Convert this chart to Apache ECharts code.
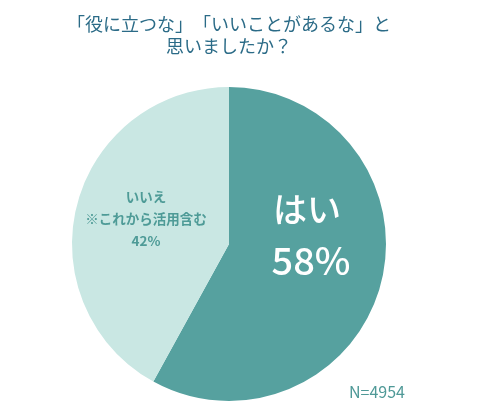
<!DOCTYPE html>
<html><head><meta charset="utf-8">
<script src="https://cdn.jsdelivr.net/npm/echarts@6/dist/echarts.min.js"></script>
<style>html,body{margin:0;padding:0;background:#fff}#c{width:483px;height:416px}</style>
</head><body><div id="c"></div>
<script>
const titleLines = ["「役に立つな」\u200B「いいことがあるな」と", "思いましたか？"];
const categories = ["はい", "いいえ"];
const values = [58, 42];
const noteLabel = "※これから活用含む";
const sampleText = "N=4954";
const colors = ["#56a19f", "#c9e7e3"];

const chart = echarts.init(document.getElementById('c'));
const ff = 'Noto Sans CJK JP';
chart.setOption({
  animation: false,
  title: {
    text: titleLines.join("\n"),
    left: 224, top: 8, textAlign: 'center',
    textStyle: { fontFamily: ff, fontSize: 18, fontWeight: 'normal', color: '#2b6b87', lineHeight: 22, align: 'center' }
  },
  series: [{
    type: 'pie',
    center: [229, 244],
    radius: 157,
    startAngle: 90,
    clockwise: true,
    label: { show: false },
    labelLine: { show: false },
    itemStyle: { borderWidth: 0 },
    data: categories.map((c, i) => ({ name: c, value: values[i], itemStyle: { color: colors[i] } }))
  }],
  graphic: [
    { type: 'text', z: 100, style: { text: categories[0], x: 307, y: 209, align: 'center', verticalAlign: 'middle', fill: '#fff', font: '500 34px ' + ff } },
    { type: 'text', z: 100, style: { text: values[0] + '%', x: 311, y: 261, align: 'center', verticalAlign: 'middle', fill: '#fff', font: '500 38px ' + ff } },
    { type: 'text', z: 100, style: { text: categories[1] + "\n" + noteLabel + "\n" + values[1] + '%', x: 146, y: 186, align: 'center', fill: '#4e9b97', font: 'bold 13.5px ' + ff, lineHeight: 22 } },
    { type: 'text', z: 100, style: { text: sampleText, x: 377, y: 392, align: 'center', verticalAlign: 'middle', fill: '#4f9997', font: '16px ' + ff } }
  ]
});
</script></body></html>
